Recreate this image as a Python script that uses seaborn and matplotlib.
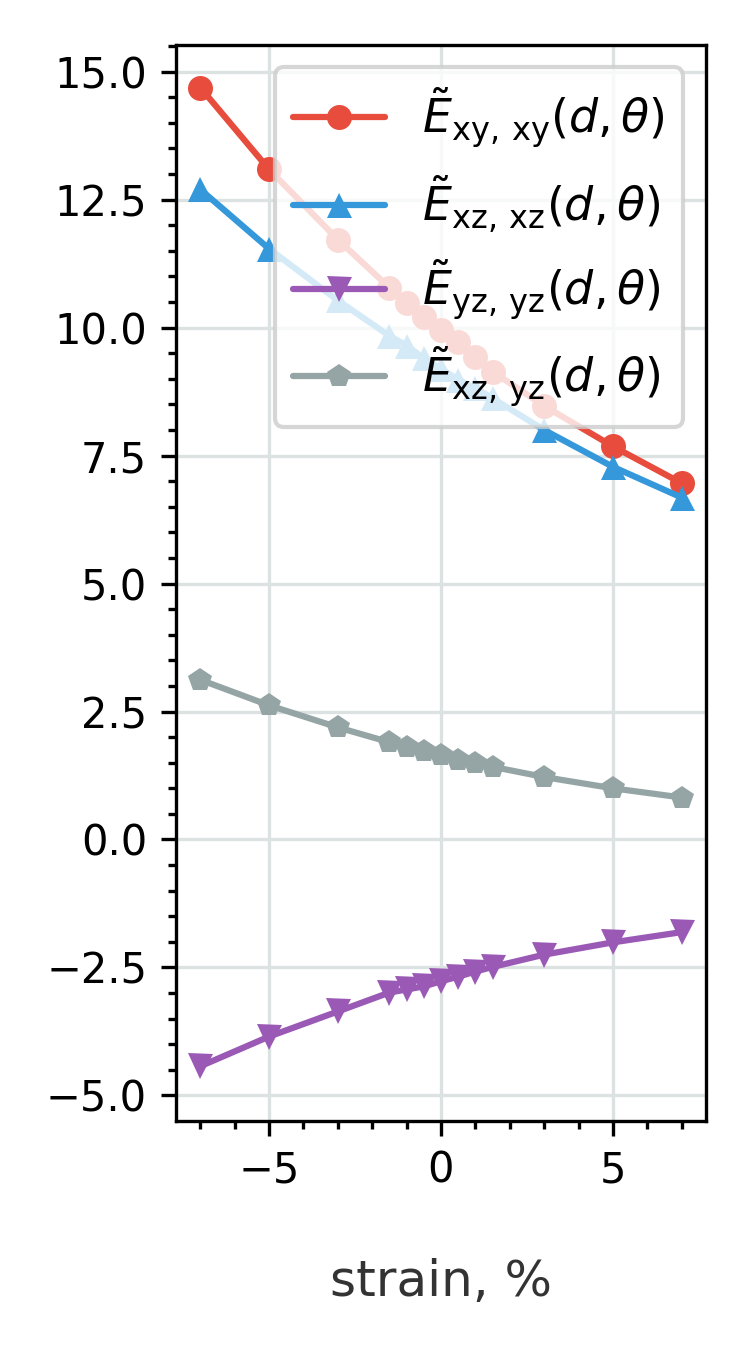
import numpy as np
import pandas as pd
import matplotlib
matplotlib.use('Agg')
import matplotlib.pyplot as plt
import seaborn as sns
from matplotlib.ticker import MultipleLocator

# strain values, %
strain = [-7, -5, -3, -1.5, -1, -0.5, 0, 0.5, 1, 1.5, 3, 5, 7]

E_xy_xy = [14.69, 13.09, 11.72, 10.78, 10.49, 10.21, 9.96, 9.71, 9.43, 9.14, 8.47, 7.68, 6.96]
E_xz_xz = [12.70, 11.54, 10.53, 9.84, 9.65, 9.40, 9.20, 8.98, 8.82, 8.62, 8.00, 7.28, 6.68]
E_yz_yz = [-4.43, -3.85, -3.36, -2.99, -2.93, -2.87, -2.77, -2.68, -2.58, -2.49, -2.25, -2.01, -1.81]
E_xz_yz = [3.12, 2.62, 2.19, 1.90, 1.81, 1.72, 1.65, 1.56, 1.49, 1.42, 1.22, 1.00, 0.82]

labels = [r'$\tilde{E}_{\rm xy,\,xy}(d,\theta)$',
          r'$\tilde{E}_{\rm xz,\,xz}(d,\theta)$',
          r'$\tilde{E}_{\rm yz,\,yz}(d,\theta)$',
          r'$\tilde{E}_{\rm xz,\,yz}(d,\theta)$']
colors = ['#e74c3c', '#3498db', '#9b59b6', '#95a5a6']
markers = ['o', '^', 'v', 'p']

sns.set_style('ticks')
plt.rcParams['font.family'] = ['DejaVu Sans']

fig, ax = plt.subplots(figsize=(2.5, 4.5), dpi=300)
fig.subplots_adjust(left=0.235, right=0.941, top=0.967, bottom=0.170)

series = [E_xy_xy, E_xz_xz, E_yz_yz, E_xz_yz]
for vals, lab, c, m in zip(series, labels, colors, markers):
    df = pd.DataFrame({'strain': strain, 'E': vals})
    sns.lineplot(data=df, x='strain', y='E', ax=ax, color=c, marker=m,
                 markersize=6, markeredgewidth=0, linewidth=1.5, label=lab)

ax.set_ylim(-5.49, 15.53)
ax.grid(True, which='major', color='#dce2e2', linewidth=0.8)
ax.set_axisbelow(True)
ax.xaxis.set_major_locator(MultipleLocator(5))
ax.xaxis.set_minor_locator(MultipleLocator(1))
ax.yaxis.set_major_locator(MultipleLocator(2.5))
ax.yaxis.set_minor_locator(MultipleLocator(0.5))
ax.tick_params(which='both', direction='out', colors='black', labelsize=10, width=0.8)
ax.tick_params(which='major', length=3.5)
ax.tick_params(which='minor', length=2)
for sp in ax.spines.values():
    sp.set_color('black')
    sp.set_linewidth(0.8)

ax.set_xlabel('strain, %', fontsize=12, color='#333333', labelpad=16)
ax.set_ylabel('')
ax.legend(loc='upper right', fontsize=11, framealpha=0.8, edgecolor='#cccccc',
          labelcolor='black')

fig.savefig('out.png', dpi=300)
